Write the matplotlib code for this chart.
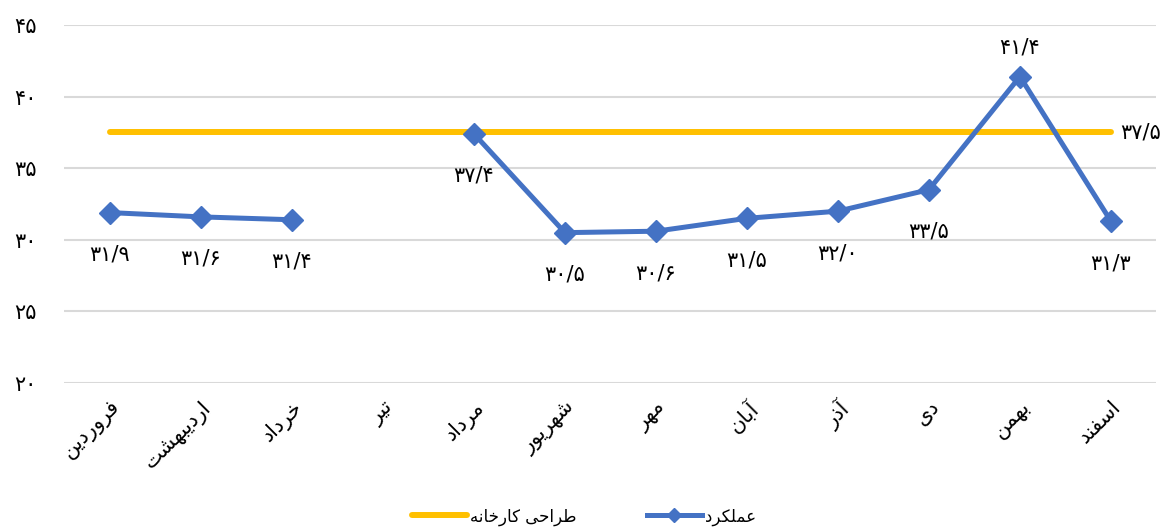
import numpy as np
import matplotlib
matplotlib.use("Agg")
import matplotlib.pyplot as plt
from matplotlib.lines import Line2D

# --- data ---
months = ["فروردین", "اردیبهشت", "خرداد", "تیر", "مرداد", "شهریور",
          "مهر", "آبان", "آذر", "دی", "بهمن", "اسفند"]
performance = [31.9, 31.6, 31.4, np.nan, 37.4, 30.5, 30.6, 31.5, 32.0, 33.5, 41.4, 31.3]
design = [37.5] * 12
yticks = [20, 25, 30, 35, 40, 45]
series_names = ["طراحی کارخانه", "عملکرد"]

BLUE = "#4472C4"
YELLOW = "#FFC000"

# --- tiny arabic shaper (no arabic_reshaper available) ---
# letter: (isolated, final, initial, medial); None for right-joining only
FORMS = {
    "ا": ("\uFE8D", "\uFE8E", None, None),
    "آ": ("\uFE81", "\uFE82", None, None),
    "ب": ("\uFE8F", "\uFE90", "\uFE91", "\uFE92"),
    "ت": ("\uFE95", "\uFE96", "\uFE97", "\uFE98"),
    "ح": ("\uFEA1", "\uFEA2", "\uFEA3", "\uFEA4"),
    "خ": ("\uFEA5", "\uFEA6", "\uFEA7", "\uFEA8"),
    "د": ("\uFEA9", "\uFEAA", None, None),
    "ذ": ("\uFEAB", "\uFEAC", None, None),
    "ر": ("\uFEAD", "\uFEAE", None, None),
    "س": ("\uFEB1", "\uFEB2", "\uFEB3", "\uFEB4"),
    "ش": ("\uFEB5", "\uFEB6", "\uFEB7", "\uFEB8"),
    "ط": ("\uFEC1", "\uFEC2", "\uFEC3", "\uFEC4"),
    "ع": ("\uFEC9", "\uFECA", "\uFECB", "\uFECC"),
    "ف": ("\uFED1", "\uFED2", "\uFED3", "\uFED4"),
    "ل": ("\uFEDD", "\uFEDE", "\uFEDF", "\uFEE0"),
    "م": ("\uFEE1", "\uFEE2", "\uFEE3", "\uFEE4"),
    "ن": ("\uFEE5", "\uFEE6", "\uFEE7", "\uFEE8"),
    "ه": ("\uFEE9", "\uFEEA", "\uFEEB", "\uFEEC"),
    "و": ("\uFEED", "\uFEEE", None, None),
    "ی": ("\uFBFC", "\uFBFD", "\uFBFE", "\uFBFF"),
    "ک": ("\uFB8E", "\uFB8F", "\uFB90", "\uFB91"),
}


def dual(c):
    return c in FORMS and FORMS[c][2] is not None


def shape(text):
    out = []
    for i, c in enumerate(text):
        if c not in FORMS:
            out.append(c)
            continue
        prev = text[i - 1] if i > 0 else ""
        nxt = text[i + 1] if i + 1 < len(text) else ""
        join_prev = dual(prev)
        join_next = dual(c) and nxt in FORMS
        iso, fin, ini, med = FORMS[c]
        if join_prev and join_next:
            out.append(med)
        elif join_prev:
            out.append(fin)
        elif join_next:
            out.append(ini)
        else:
            out.append(iso)
    return "".join(out)[::-1]


FA_DIGITS = str.maketrans("0123456789.", "۰۱۲۳۴۵۶۷۸۹/")


def fa_num(v, fmt="{:.1f}"):
    return fmt.format(v).translate(FA_DIGITS)


plt.rcParams["font.family"] = ["DejaVu Sans"]

fig = plt.figure(figsize=(11.68, 5.27), dpi=100)
ax = fig.add_axes([0.0552, 0.2732, 0.9349, 0.6794])

x = np.arange(len(months))
ax.plot(x, design, color=YELLOW, lw=4.3, solid_capstyle="round", zorder=2)
ax.plot(x, performance, color=BLUE, lw=3.6, marker="D", ms=11.5,
        markeredgecolor=BLUE, zorder=3)

ax.set_xlim(-0.5, len(months) - 0.5)
ax.set_ylim(20, 45)
ax.set_yticks(yticks)
ax.set_yticklabels([fa_num(t, "{:d}") for t in yticks], fontsize=15)
ax.yaxis.grid(True, color="#D9D9D9", lw=1.5)
ax.set_axisbelow(True)
for s in ax.spines.values():
    s.set_visible(False)
ax.tick_params(axis="both", length=0)
ax.tick_params(axis="y", pad=20)

ax.set_xticks(x)
ax.set_xticklabels([shape(m) for m in months], rotation=45, ha="right",
                   va="top", rotation_mode="anchor", fontsize=15)
ax.tick_params(axis="x", pad=10)

# data labels
for xi, v in zip(x, performance):
    if np.isnan(v):
        continue
    if v > 40:
        ax.annotate(fa_num(v), (xi, v), xytext=(0, 14), textcoords="offset points",
                    ha="center", va="bottom", fontsize=15)
    else:
        ax.annotate(fa_num(v), (xi, v), xytext=(0, -23), textcoords="offset points",
                    ha="center", va="top", fontsize=15)
ax.annotate(fa_num(design[-1]), (x[-1], design[-1]), xytext=(7, 0),
            textcoords="offset points", ha="left", va="center", fontsize=15)

handles = [Line2D([], [], color=YELLOW, lw=4.3, solid_capstyle="round"),
           Line2D([], [], color=BLUE, lw=3.6, marker="D", ms=7)]
fig.legend(handles, [shape(n) for n in series_names], loc="center",
           bbox_to_anchor=(0.5, 0.02), ncol=2, frameon=False, fontsize=12,
           handlelength=3.3, handletextpad=0.2, columnspacing=4.2)

fig.savefig("out.png", dpi=100)
